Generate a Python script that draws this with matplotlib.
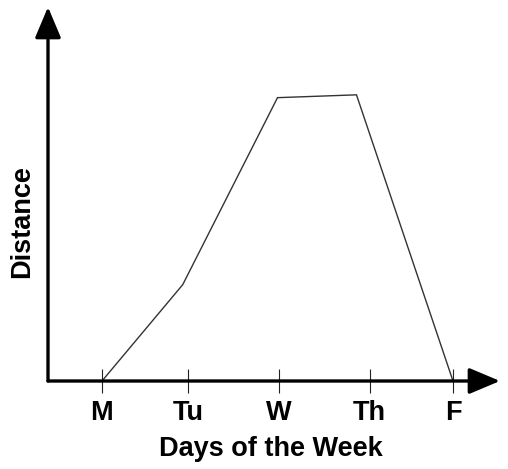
import matplotlib
matplotlib.use("Agg")
import matplotlib.pyplot as plt

days = ["M", "Tu", "W", "Th", "F"]
day_ticks = [0.0, 0.98, 2.02, 3.05, 4.0]
x_vals = [0.0, 0.92, 2.0, 2.9, 4.0]
distance = [0.0, 3.4, 10.0, 10.1, 0.0]

plt.rcParams['font.family'] = ['Liberation Sans', 'DejaVu Sans']

W, H = 508, 469
fig = plt.figure(figsize=(W / 100, H / 100), dpi=100)
left, right, bottom_px, top_px = 48, 500, 381, 7
ax = fig.add_axes([left / W, (H - bottom_px) / H, (right - left) / W, (bottom_px - top_px) / H])

unit = (453 - 102) / 4
ax.set_xlim(-(102 - left) / unit, 4 + (right - 453) / unit)
ax.set_ylim(0, 13.2)

ax.plot(x_vals, distance, color="#333333", lw=1.0, solid_joinstyle="miter", zorder=3)

for s in ax.spines.values():
    s.set_visible(False)

arrow_kw = dict(arrowstyle="-|>,head_length=0.95,head_width=0.4", color="black",
                lw=2.4, mutation_scale=20, shrinkA=0, shrinkB=0)
ax.annotate("", xy=(1, 0), xytext=(0, 0), xycoords="axes fraction",
            textcoords="axes fraction", arrowprops=arrow_kw, annotation_clip=False)
ax.annotate("", xy=(0, 1), xytext=(0, 0), xycoords="axes fraction",
            textcoords="axes fraction", arrowprops=arrow_kw, annotation_clip=False)

ax.set_xticks(day_ticks)
ax.set_xticklabels(days, fontsize=19.5, fontweight="bold")
ax.tick_params(axis="x", direction="inout", length=17, width=0.8, pad=5, color="#222222")
ax.set_yticks([])

fig.text(271 / W, 1 - 449 / H, "Days of the Week", ha="center", va="center",
         fontsize=19.5, fontweight="bold")
fig.text(22 / W, 1 - 222 / H, "Distance", ha="center", va="center", rotation=90,
         fontsize=19.5, fontweight="bold")

fig.savefig("out.png", dpi=100)
